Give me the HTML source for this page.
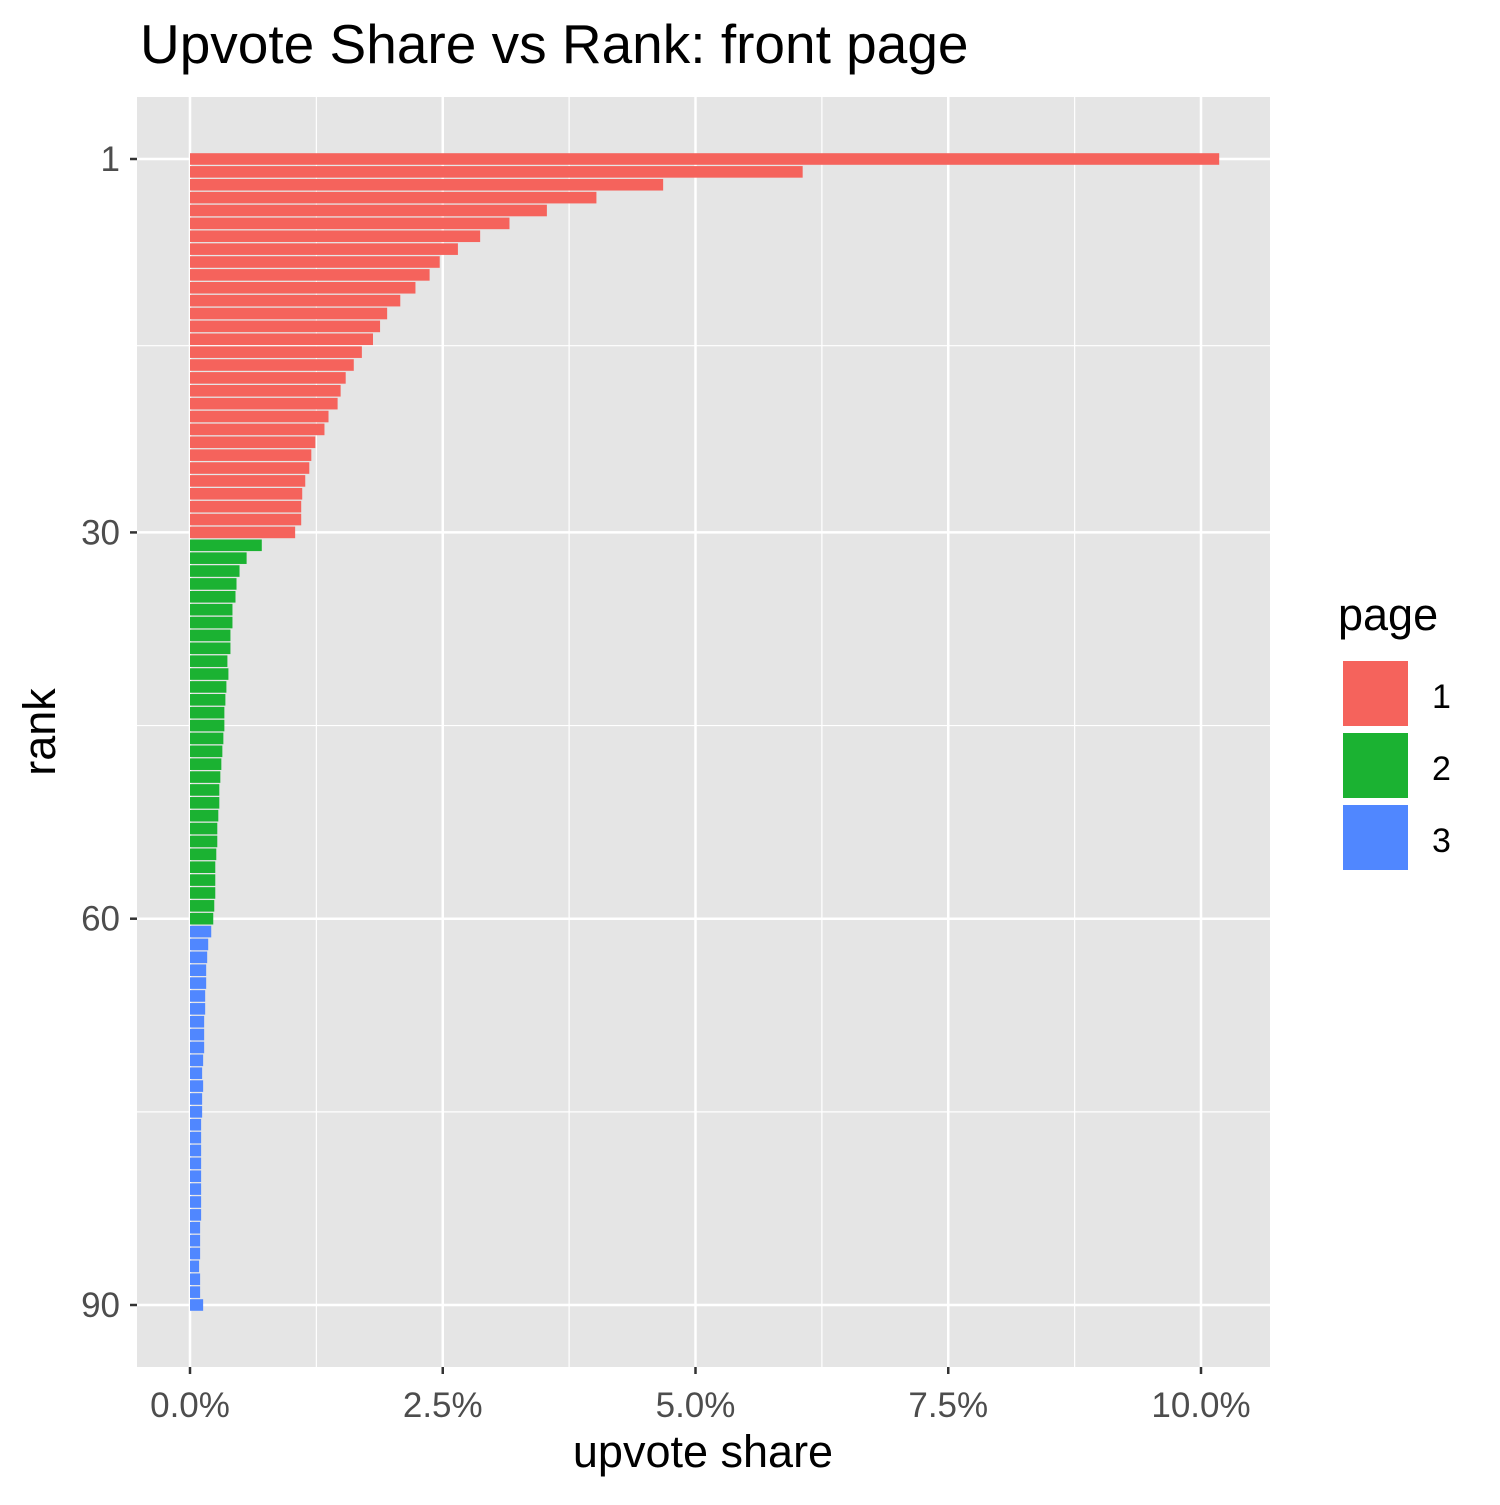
<!DOCTYPE html>
<html><head><meta charset="utf-8"><style>
body{margin:0;background:#fff;font-family:"Liberation Sans",Arial,sans-serif}
</style></head><body>
<svg id="chart" width="1500" height="1500" xmlns="http://www.w3.org/2000/svg">
<text x="140" y="63" font-size="55" fill="#000">Upvote Share vs Rank: front page</text>
<rect x="137" y="97" width="1133" height="1270" fill="#e5e5e5"/>
<g id="grid"></g>
<g id="bars"></g>
<g id="axes"></g>
<text x="703" y="1467" font-size="45" text-anchor="middle" fill="#000">upvote share</text>
<text transform="translate(55,732) rotate(-90)" font-size="45" text-anchor="middle" fill="#000">rank</text>
<g>
<text x="1338" y="630" font-size="45" fill="#000">page</text>
<rect x="1342" y="660" width="67" height="67" fill="#f5635c" stroke="#fff" stroke-width="2"/>
<rect x="1342" y="732" width="67" height="67" fill="#1bb232" stroke="#fff" stroke-width="2"/>
<rect x="1342" y="804" width="67" height="67" fill="#5087ff" stroke="#fff" stroke-width="2"/>
<text x="1432" y="708" font-size="34" fill="#000">1</text>
<text x="1432" y="780" font-size="34" fill="#000">2</text>
<text x="1432" y="852" font-size="34" fill="#000">3</text>
</g>
</svg>
<script>
const shares = [10.18,6.06,4.68,4.02,3.53,3.16,2.87,2.65,2.47,2.37,2.23,2.08,1.95,1.88,1.81,1.70,1.62,1.54,1.49,1.46,1.37,1.33,1.24,1.20,1.18,1.14,1.11,1.10,1.10,1.04,
0.71,0.56,0.49,0.46,0.45,0.42,0.42,0.40,0.40,0.37,0.38,0.36,0.35,0.34,0.34,0.33,0.32,0.31,0.30,0.29,0.29,0.28,0.27,0.27,0.26,0.25,0.25,0.25,0.24,0.23,
0.21,0.18,0.17,0.16,0.16,0.15,0.15,0.14,0.14,0.14,0.13,0.12,0.13,0.12,0.12,0.11,0.11,0.11,0.11,0.11,0.11,0.11,0.11,0.10,0.10,0.10,0.09,0.10,0.10,0.13];
const pageColors = ["#f5635c","#1bb232","#5087ff"];
const xTicks = [0,2.5,5,7.5,10];
const xTickLabels = ["0.0%","2.5%","5.0%","7.5%","10.0%"];
const yTicks = [1,30,60,90];
const yMinor = [15.5,45,75];
const xMinor = [1.25,3.75,6.25,8.75];

const NS="http://www.w3.org/2000/svg";
const xs = v => 190 + v*101.1;
const ys = r => 159 + (r-1)*(1305-159)/89;
const bw = 0.9*(1305-159)/89;
function mk(tag, attrs, parent){const e=document.createElementNS(NS,tag);for(const k in attrs)e.setAttribute(k,attrs[k]);document.getElementById(parent).appendChild(e);return e;}
xMinor.forEach(v=>{const l=mk('line',{x1:xs(v),x2:xs(v),y1:97,y2:1367,stroke:'#fff','stroke-width':1.2},'grid');

});
yMinor.forEach(v=>{const l=mk('line',{x1:137,x2:1270,y1:ys(v),y2:ys(v),stroke:'#fff','stroke-width':1.2},'grid');

});
xTicks.forEach((v,i)=>{const l=mk('line',{x1:xs(v),x2:xs(v),y1:97,y2:1367,stroke:'#fff','stroke-width':2.5},'grid');


const t=mk('line',{x1:xs(v),x2:xs(v),y1:1367,y2:1374,stroke:'#333','stroke-width':2.5},'axes');


const tx=mk('text',{x:xs(v),y:1417,'font-size':35,'text-anchor':'middle',fill:'#4d4d4d'},'axes');
tx.textContent=xTickLabels[i];

});
yTicks.forEach(v=>{const l=mk('line',{x1:137,x2:1270,y1:ys(v),y2:ys(v),stroke:'#fff','stroke-width':2.5},'grid');


const t=mk('line',{x1:130,x2:137,y1:ys(v),y2:ys(v),stroke:'#333','stroke-width':2.5},'axes');


const tx=mk('text',{x:120,y:ys(v)+12,'font-size':35,'text-anchor':'end',fill:'#4d4d4d'},'axes');
tx.textContent=String(v);

});
shares.forEach((v,i)=>{const r=i+1;const pg=r<=30?0:(r<=60?1:2);
const b=mk('rect',{x:xs(0),y:ys(r)-bw/2,width:xs(v)-xs(0),height:bw,fill:pageColors[pg]},'bars');

});
</script>
</body></html>
